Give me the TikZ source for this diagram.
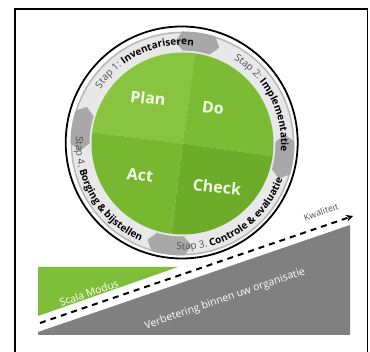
\documentclass[tikz,border=0pt]{standalone}
\usepackage{fontspec}
\setmainfont{Open Sans}
\usepackage{tikz}
\usetikzlibrary{decorations.text}
\definecolor{plangreen}{RGB}{137, 196, 64}
\definecolor{dogreen}{RGB}{124, 187, 52}
\definecolor{actgreen}{RGB}{120, 184, 48}
\definecolor{checkgreen}{RGB}{108, 172, 40}
\definecolor{scalagreen}{RGB}{126, 190, 56}
\definecolor{lighttext}{RGB}{244, 249, 230}
\definecolor{ringgray}{RGB}{232, 232, 232}
\definecolor{tabgray}{RGB}{168, 168, 168}
\definecolor{basegray}{RGB}{128, 128, 128}
\definecolor{stepgray}{RGB}{80, 80, 80}

\begin{document}
\begin{tikzpicture}[x=1pt, y=1pt]
    % Define styles
    \tikzstyle{phase} = [text=lighttext, font=\fontsize{16}{18}\selectfont\bfseries, rotate=-6, inner sep=0pt]
    \tikzstyle{slanted} = [text=white, font=\fontsize{10.5}{12}\selectfont, rotate=19, inner sep=0pt]
    \tikzstyle{quality} = [line width=2pt, dash pattern=on 6pt off 5pt, ->, >=stealth]
    \tikzstyle{tab} = [fill=tabgray]
    \tikzstyle{steptext} = [decorate, decoration={text along path, text align=center}]
    \useasboundingbox (0,0) rectangle (370,352);

    % Frame
    \draw [line width=1.6pt] (15,343) rectangle (367.5,-10);

    % Cycle
    \begin{scope}[shift={(182.5,208.5)}]
        \fill [ringgray] (0,0) circle (112);
        \draw [gray!55, line width=1.5pt] (0,0) circle (111);
        \foreach \a in {82,-7,-97,172} {
            \fill [tab] (\a+8:93) arc [start angle=\a+8, end angle=\a-9, radius=93]
                -- (\a-13:102.5) -- (\a-9:112) arc [start angle=\a-9, end angle=\a+8, radius=112]
                -- (\a+12:102.5) -- cycle;
        }
        \draw [line width=1.8pt] (-0.8,1) circle (116);
        \fill [plangreen] (0,0) -- (82:91) arc [start angle=82, end angle=173, radius=91] -- cycle;
        \fill [dogreen] (0,0) -- (-8:91) arc [start angle=-8, end angle=82, radius=91] -- cycle;
        \fill [checkgreen] (0,0) -- (-97:91) arc [start angle=-97, end angle=-8, radius=91] -- cycle;
        \fill [actgreen] (0,0) -- (173:91) arc [start angle=173, end angle=263, radius=91] -- cycle;

        % Step labels
        \path [steptext, decoration={text={|\fontsize{10}{11}\selectfont\color{stepgray}|Stap 1: |\fontsize{10}{11}\selectfont\bfseries\color{black}|Inventariseren}}]
            (165:98.5) arc [start angle=165, end angle=65, radius=98.5];
        \path [steptext, decoration={text={|\fontsize{10}{11}\selectfont\color{stepgray}|Stap 2: |\fontsize{10}{11}\selectfont\bfseries\color{black}|Implementatie}}]
            (80:98.5) arc [start angle=80, end angle=-26, radius=98.5];
        \path [steptext, decoration={text={|\fontsize{10}{11}\selectfont\color{stepgray}|Stap 3. |\fontsize{10}{11}\selectfont\bfseries\color{black}|Controle {\&} evaluatie}}]
            (-110:106.5) arc [start angle=-110, end angle=-3, radius=106.5];
        \path [steptext, decoration={text={|\fontsize{10}{11}\selectfont\color{stepgray}|Stap 4. |\fontsize{10}{11}\selectfont\bfseries\color{black}|Borging {\&} bijstellen}}]
            (160:106.5) arc [start angle=160, end angle=263, radius=106.5];
    \end{scope}

    % Nodes
    \node [phase] (plan) at (148,254) {Plan};
    \node [phase] (do) at (213,244) {Do};
    \node [phase] (act) at (140,177) {Act};
    \node [phase] (check) at (217,165) {Check};

    % Base shapes
    \fill [scalagreen] (38,85) -- (178,85) -- (38,36) -- cycle;
    \fill [basegray] (38,20) -- (350,127) -- (350,17) -- (38,17) -- cycle;
    \node [slanted] (scala) at (89,59) {Scala Modus};
    \node [slanted] (verbetering) at (225,53) {Verbetering binnen uw organisatie};

    % Quality arrow
    \coordinate (qstart) at (40,29);
    \coordinate (qend) at (353,136);
    \draw [quality] (qstart) -- (qend);
    \node [slanted, text=stepgray, font=\fontsize{9}{10}\selectfont] (kwaliteit) at (321,140) {Kwaliteit};
\end{tikzpicture}
\end{document}
